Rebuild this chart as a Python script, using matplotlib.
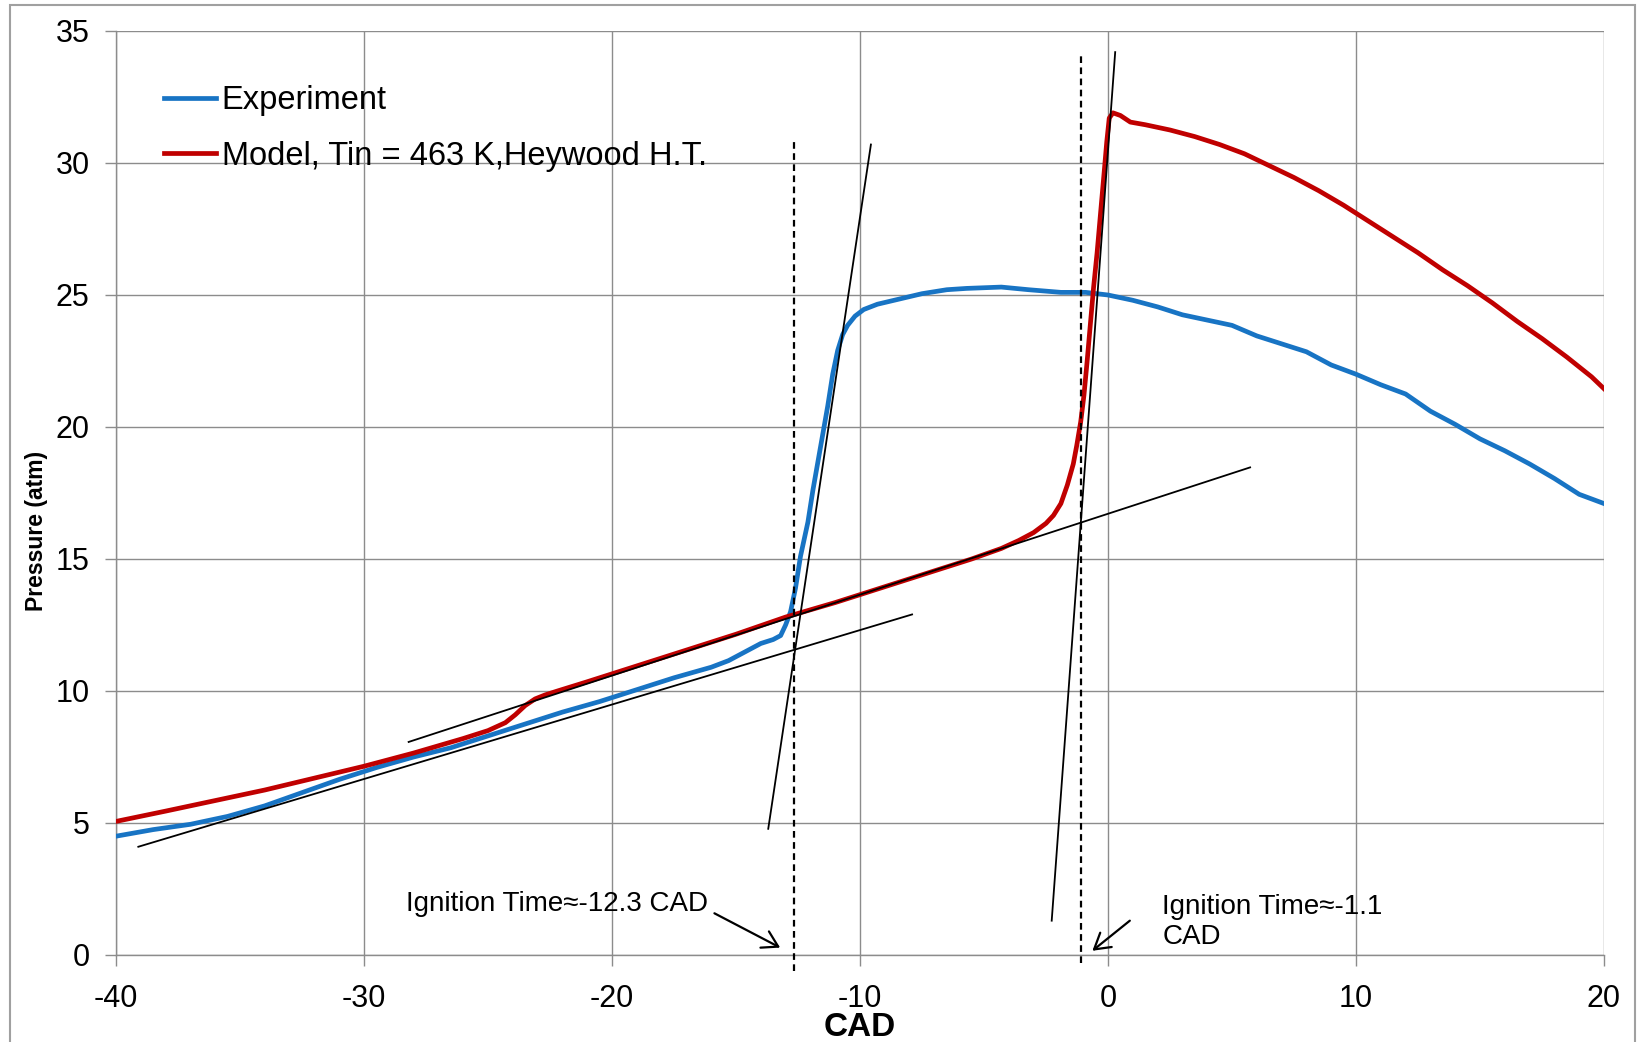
import matplotlib.pyplot as plt
import matplotlib.patches as mpatches

plt.rcParams["font.family"] = ["Liberation Sans", "DejaVu Sans"]
plt.rcParams["axes.unicode_minus"] = False

# Measured cylinder pressure vs crank angle
exp_cad = [-40, -38.5, -37.0, -35.5, -34.0, -32.5, -31.0, -29.5, -28.0, -26.5,
           -25.0, -23.5, -22.0, -20.5, -19.0, -17.5, -16.0, -15.3, -14.7, -14.0,
           -13.5, -13.2, -13.0, -12.8, -12.6, -12.4, -12.1, -11.9, -11.6, -11.3,
           -11.1, -10.9, -10.7, -10.5, -10.2, -9.85, -9.3, -8.4, -7.5, -6.5,
           -5.7, -4.3, -3.2, -1.9, -0.9, 0.0, 1.0, 2.0, 3.0, 4.0,
           5.0, 6.0, 7.0, 8.0, 9.0, 10.0, 11.0, 12.0, 13.0, 14.0,
           15.0, 16.0, 17.0, 18.0, 19.0, 20.0]
exp_p = [4.5, 4.75, 4.95, 5.25, 5.65, 6.15, 6.65, 7.1, 7.5, 7.85,
         8.3, 8.75, 9.2, 9.6, 10.05, 10.5, 10.9, 11.15, 11.45, 11.8,
         11.95, 12.1, 12.5, 13.0, 13.9, 15.1, 16.4, 17.6, 19.2, 20.8,
         22.0, 22.9, 23.5, 23.85, 24.2, 24.45, 24.65, 24.85, 25.05, 25.2,
         25.25, 25.3, 25.2, 25.1, 25.1, 25.0, 24.8, 24.55, 24.25, 24.05,
         23.85, 23.45, 23.15, 22.85, 22.35, 22.0, 21.6, 21.25, 20.6, 20.1,
         19.55, 19.1, 18.6, 18.05, 17.45, 17.1]

# Model, Tin = 463 K with Heywood heat transfer
mod_cad = [-40, -38.0, -36.0, -34.0, -32.0, -30.0, -28.0, -26.0, -25.0, -24.3,
           -23.9, -23.5, -23.1, -22.7, -22.2, -21.0, -19.0, -17.0, -15.0, -13.0,
           -11.0, -9.0, -7.0, -5.5, -4.3, -3.6, -3.0, -2.5, -2.2, -1.9,
           -1.64, -1.4, -1.26, -1.1, -0.97, -0.85, -0.72, -0.58, -0.44, -0.3,
           -0.15, -0.05, 0.05, 0.2, 0.5, 0.9, 1.5, 2.5, 3.5, 4.5,
           5.5, 6.5, 7.5, 8.5, 9.5, 10.5, 11.5, 12.5, 13.5, 14.5,
           15.5, 16.5, 17.5, 18.5, 19.5, 20.0]
mod_p = [5.06, 5.45, 5.85, 6.25, 6.7, 7.15, 7.65, 8.2, 8.5, 8.8,
         9.1, 9.45, 9.7, 9.85, 10.0, 10.35, 10.95, 11.55, 12.15, 12.8,
         13.35, 13.95, 14.55, 15.0, 15.4, 15.7, 16.0, 16.35, 16.65, 17.1,
         17.8, 18.6, 19.3, 20.2, 21.2, 22.4, 23.8, 25.3, 26.6, 28.1,
         29.7, 30.8, 31.7, 31.9, 31.8, 31.55, 31.45, 31.25, 31.0, 30.7,
         30.35, 29.9, 29.45, 28.95, 28.4, 27.8, 27.2, 26.6, 25.95, 25.35,
         24.7, 24.0, 23.35, 22.65, 21.9, 21.45]

# Tangent construction lines: (x0, x1), (y0, y1)
tangents = [
    ((-39.1, -7.9), (4.1, 12.9)),
    ((-28.2, 5.73), (8.07, 18.47)),
    ((-13.7, -9.56), (4.78, 30.7)),
    ((-2.27, 0.29), (1.3, 34.2)),
]

# Ignition markers: x, y range
ign_x = [-12.65, -1.09]
ign_y = [(-0.6, 30.9), (-0.3, 34.1)]

# Ignition labels: text, text position, arrow tail, arrow tip
ign_labels = ["Ignition Time\u2248-12.3 CAD", "Ignition Time\u2248-1.1\nCAD"]
ign_text_xy = [(-28.3, 1.94), (2.19, 1.25)]
ign_tail = [(-15.87, 1.58), (0.88, 1.30)]
ign_tip = [(-13.22, 0.28), (-0.63, 0.16)]

fig = plt.figure(figsize=(16.37, 10.42), dpi=100)
ax = fig.add_axes([116 / 1637, 87 / 1042, 1488 / 1637, 924 / 1042])

# outer frame
fig.patches.append(mpatches.Rectangle((10 / 1637, -0.05), 1625 / 1637, 1.05 - 5 / 1042,
                                      transform=fig.transFigure, fill=False,
                                      edgecolor="#a0a0a0", lw=1.5))

grid_c = "#8c8c8c"
ax.set_xlim(-40, 20)
ax.set_ylim(0, 35)
ax.set_xticks(range(-40, 21, 10))
ax.set_yticks(range(0, 36, 5))
ax.grid(True, color=grid_c, lw=1.0)
ax.set_axisbelow(True)
for side in ["top", "right"]:
    ax.spines[side].set_visible(False)
for side in ["left", "bottom"]:
    ax.spines[side].set_color(grid_c)
    ax.spines[side].set_linewidth(1.0)
ax.tick_params(axis="both", length=8, width=1.0, color=grid_c, labelsize=22)
ax.tick_params(axis="y", pad=11)
ax.tick_params(axis="x", pad=13)

ax.plot(exp_cad, exp_p, color="#1874C4", lw=3.4, label="Experiment", zorder=4,
        solid_joinstyle="round")
ax.plot(mod_cad, mod_p, color="#C00000", lw=3.4,
        label="Model, Tin = 463 K,Heywood H.T.", zorder=4, solid_joinstyle="round")

for (xs, ys) in tangents:
    ax.plot(xs, ys, color="black", lw=1.3, zorder=5)

for x, (y0, y1) in zip(ign_x, ign_y):
    ax.plot([x, x], [y0, y1], color="black", lw=1.6, ls=(0, (3, 2)),
            clip_on=False, zorder=5)

for label, txy, tail, tip in zip(ign_labels, ign_text_xy, ign_tail, ign_tip):
    ax.text(txy[0], txy[1], label, fontsize=20, va="center", ha="left",
            linespacing=1.25)
    ax.annotate("", xy=tip, xytext=tail,
                arrowprops=dict(arrowstyle="->,head_length=0.5,head_width=0.3",
                                color="black", lw=1.6, mutation_scale=22,
                                shrinkA=0, shrinkB=0))

leg = ax.legend(loc="upper left", bbox_to_anchor=(0.021, 0.959), frameon=False,
                fontsize=23.5, handlelength=1.6, handletextpad=0.18,
                labelspacing=0.745, borderpad=0)

ax.set_xlabel("CAD", fontsize=24, fontweight="bold")
ax.xaxis.set_label_coords(0.5, -0.0617)
ax.set_ylabel("Pressure (atm)", fontsize=16.5, fontweight="bold")
ax.yaxis.set_label_coords(-0.046, 0.459)

fig.savefig("out.png", dpi=100)
